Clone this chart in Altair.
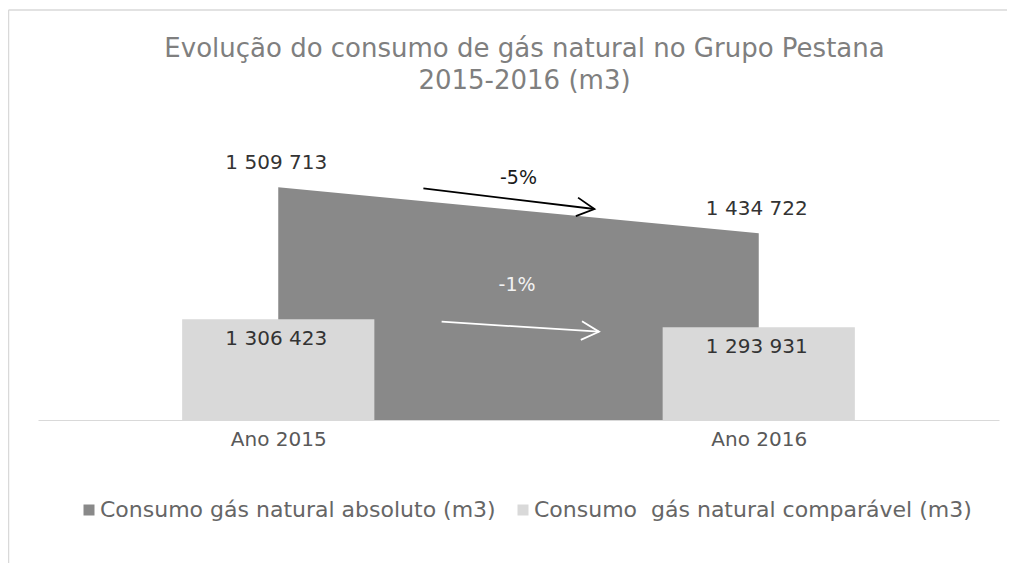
import json
import altair as alt
import pandas as pd

FONT = "DejaVu Sans"

# ---- data -------------------------------------------------------------
YEARS = ["Ano 2015", "Ano 2016"]
SERIES = ["Consumo gás natural absoluto (m3)",
          "Consumo\u00a0 gás natural comparável (m3)"]
ABSOLUTE = [1509713, 1434722]
COMPARABLE = [1306423, 1293931]
COLORS = ["#898989", "#d9d9d9"]

# hidden value axes (primary for the area, secondary for the bars)
ABS_DOMAIN = [1130364, 1652028]
CMP_DOMAIN = [1149180, 1648860]

# change arrows (category-index units on x, absolute-axis units on y)
ARROW_X = [0.302, 0.340]
ARROW_X2 = [0.658, 0.6675]
ARROW_Y = [1508081, 1290613]
ARROW_Y2 = [1474336, 1274311]
ARROW_ANGLE = [6.9, 3.64]
ARROW_COLOR = ["#000000", "#ffffff"]
PCT_COLOR = ["#1a1a1a", "#f2f2f2"]
PCT_X = [0.5, 0.497]
PCT_Y = [1515091, 1341149]
PCT_TEXT = [
    f"{round((ABSOLUTE[1] / ABSOLUTE[0] - 1) * 100):d}%",
    f"{round((COMPARABLE[1] / COMPARABLE[0] - 1) * 100):d}%",
]

BAR_HALF = 0.2
ARROW_PATH = "M -1 -0.53 L 0 0 L -1 0.53"

df_abs = pd.DataFrame({"idx": [0, 1], "year": YEARS, "value": ABSOLUTE,
                       "series": SERIES[0]})
df_cmp = pd.DataFrame({"idx": [0, 1], "year": YEARS, "value": COMPARABLE,
                       "series": SERIES[1]})

# ---- shared encodings ------------------------------------------------
XSCALE = alt.Scale(domain=[-0.5, 1.5], nice=False, zero=False)
XAXIS = alt.Axis(values=[0, 1], labelExpr=f"{json.dumps(YEARS)}[datum.value]",
                 title=None, ticks=False, grid=False, domainColor="#d9d9d9",
                 domainWidth=1, labelFont=FONT, labelFontSize=20,
                 labelColor="#595959", labelPadding=9)


def xenc(field):
    return alt.X(field, scale=XSCALE, axis=XAXIS, title=None)


abs_scale = alt.Scale(domain=ABS_DOMAIN, nice=False, zero=False)
cmp_scale = alt.Scale(domain=CMP_DOMAIN, nice=False, zero=False)

color_enc = alt.Color(
    "series:N",
    scale=alt.Scale(domain=SERIES, range=COLORS),
    legend=alt.Legend(title=None, orient="none", legendX=40, legendY=399,
                      direction="horizontal", symbolType="square",
                      symbolSize=121, symbolStrokeWidth=0, labelFont=FONT,
                      labelFontSize=22, labelColor="#666666", labelLimit=1000,
                      columnPadding=16, labelOffset=0, padding=0),
)

# ---- layers ------------------------------------------------------------
area = alt.Chart(df_abs).mark_area(opacity=1).encode(
    x=xenc("idx:Q"),
    y=alt.Y("value:Q", scale=abs_scale, axis=None),
    y2=alt.datum(ABS_DOMAIN[0]),
    color=color_enc,
)

bars = alt.Chart(df_cmp).transform_calculate(
    x0=f"datum.idx - {BAR_HALF}", x1=f"datum.idx + {BAR_HALF}"
).mark_bar(opacity=1).encode(
    x=xenc("x0:Q"),
    x2="x1:Q",
    y=alt.Y("value:Q", scale=cmp_scale, axis=None),
    y2=alt.datum(CMP_DOMAIN[0]),
    color=color_enc,
)

area_labels = alt.Chart(df_abs).mark_text(
    font=FONT, fontSize=20, color="#333333", baseline="alphabetic", dy=-18, dx=-2
).encode(
    x=xenc("idx:Q"),
    y=alt.Y("value:Q", scale=abs_scale, axis=None),
    text=alt.Text("value:Q", format=",d"),
)

bar_labels = alt.Chart(df_cmp).mark_text(
    font=FONT, fontSize=20, color="#333333", baseline="alphabetic", dy=26, dx=-2
).encode(
    x=xenc("idx:Q"),
    y=alt.Y("value:Q", scale=cmp_scale, axis=None),
    text=alt.Text("value:Q", format=",d"),
)

layers = [area, bars, area_labels, bar_labels]

for i in range(2):
    d = pd.DataFrame({"x": [ARROW_X[i]], "x2": [ARROW_X2[i]],
                      "y": [ARROW_Y[i]], "y2": [ARROW_Y2[i]],
                      "px": [PCT_X[i]], "py": [PCT_Y[i]], "t": [PCT_TEXT[i]]})
    line = alt.Chart(d).mark_rule(color=ARROW_COLOR[i], strokeWidth=1.8).encode(
        x=xenc("x:Q"), x2="x2:Q",
        y=alt.Y("y:Q", scale=abs_scale, axis=None), y2="y2:Q",
    )
    head = alt.Chart(d).mark_point(
        shape=ARROW_PATH, filled=False, size=1240, strokeWidth=1.8,
        color=ARROW_COLOR[i], opacity=1, angle=ARROW_ANGLE[i],
    ).encode(
        x=xenc("x2:Q"),
        y=alt.Y("y2:Q", scale=abs_scale, axis=None),
    )
    pct = alt.Chart(d).mark_text(
        font=FONT, fontSize=19, color=PCT_COLOR[i], baseline="alphabetic",
    ).encode(
        x=xenc("px:Q"),
        y=alt.Y("py:Q", scale=abs_scale, axis=None),
        text="t:N",
    )
    layers += [line, head, pct]

# chart frame (decorative border, partially visible at left / top)
frame_df = pd.DataFrame({"a": [0]})
frame_left = alt.Chart(frame_df).mark_rule(color="#d9d9d9", strokeWidth=1.5).encode(
    x=alt.value(-29.5), y=alt.value(-90), y2=alt.value(463))
frame_top = alt.Chart(frame_df).mark_rule(color="#d9d9d9", strokeWidth=1.5).encode(
    x=alt.value(-29.5), x2=alt.value(969), y=alt.value(-90))
layers += [frame_left, frame_top]

chart = alt.layer(*layers).resolve_scale(y="independent").properties(
    width=961,
    height=320,
    autosize=alt.AutoSizeParams(type="none"),
    padding={"left": 30, "top": 92, "right": 8, "bottom": 143},
    title=alt.TitleParams(
        text=["Evolução do consumo de gás natural no Grupo Pestana",
              "2015-2016 (m3)"],
        font=FONT, fontSize=26, fontWeight="normal", color="#7f7f7f",
        anchor="middle", frame="group", lineHeight=32, offset=-85, dx=6,
    ),
).configure(
    locale={"number": {"decimal": ",", "thousands": " ", "grouping": [3],
                       "currency": ["", " €"]}}
).configure_view(strokeWidth=0)

chart.save("out.html", embed_options={"renderer": "svg", "actions": False})
